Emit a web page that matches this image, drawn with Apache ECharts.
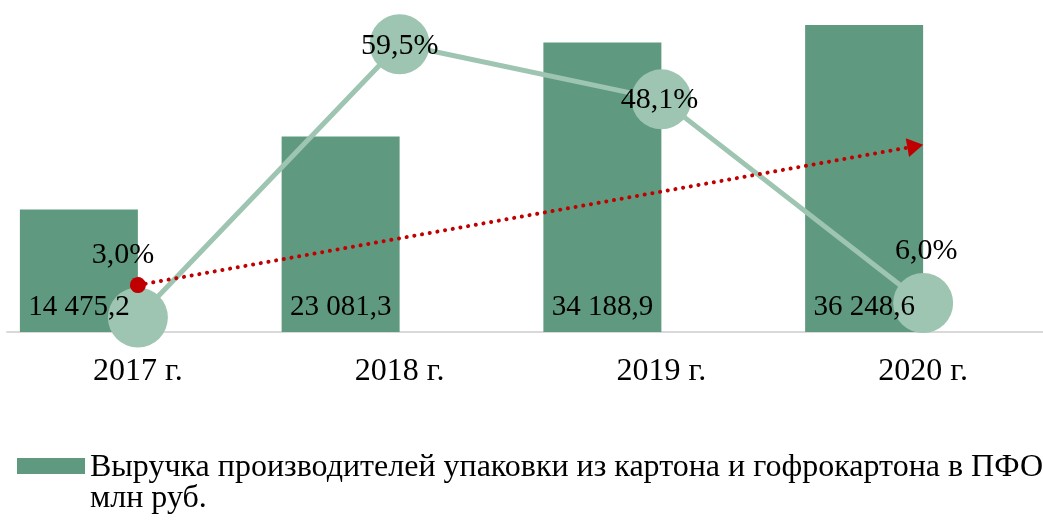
<!DOCTYPE html>
<html>
<head>
    <meta charset="utf-8" />
    <title></title>
    <script src="https://cdn.jsdelivr.net/npm/echarts@6/dist/echarts.min.js"></script>
    <style>
        html, body { margin: 0; padding: 0; background: #fff; }
        #main { width: 1043px; height: 520px; }
    </style>
</head>
<body>
<div id="main"></div>
<script type="text/javascript">
    // categories
    var years = ['2017 г.', '2018 г.', '2019 г.', '2020 г.'];
    // revenue, mln rub
    var revenue = [14475.2, 23081.3, 34188.9, 36248.6];
    // growth, %
    var growth = [3.0, 59.5, 48.1, 6.0];
    // trend arrow ends: [category position, % on right axis]
    var trendStart = [0, 9.7];
    var trendEnd = [2.97, 38.4];
    var legendLines = ['Выручка производителей упаковки из картона и гофрокартона в ПФО', 'млн руб.'];
    var legendName = legendLines.join('\n');

    // label offsets for the growth points
    var growthLabelOffset = [[-15, -62], [0, 2], [-2, 1], [3, -52]];

    var font = '"Liberation Serif", "Times New Roman", serif';
    var barColor = '#5f9a80';
    var lineColor = '#9ec4b2';
    var barW = 118;

    function fmtNum(v) {
        var s = v.toFixed(1).split('.');
        var intPart = s[0].replace(/\B(?=(\d{3})+(?!\d))/g, ' ');
        return intPart + ',' + s[1];
    }

    var myChart = echarts.init(document.getElementById('main'));
    var option = {
        animation: false,
        grid: {
            left: 7,
            width: 1047,
            top: 6,
            bottom: 188,
            outerBoundsMode: 'none'
        },
        legend: {
            data: [legendName],
            left: 12,
            top: 425,
            itemWidth: 68,
            itemHeight: 16,
            itemGap: 0,
            icon: 'rect',
            formatter: function () {
                return '{gap| }\n{t|' + legendLines[0] + '}\n{t|' + legendLines[1] + '}';
            },
            textStyle: {
                fontFamily: font,
                fontSize: 32,
                color: '#000',
                rich: {
                    gap: { lineHeight: 34, fontSize: 10 },
                    t: { fontFamily: font, fontSize: 32, lineHeight: 31, color: '#000' }
                }
            }
        },
        xAxis: [
            {
                type: 'category',
                data: years,
                axisLine: { lineStyle: { color: '#d9d9d9', width: 2 } },
                axisTick: { show: false },
                axisLabel: {
                    fontFamily: font,
                    fontSize: 32,
                    color: '#000',
                    margin: 24
                }
            },
            {
                // hidden numeric twin of the category axis, for the trend arrow
                type: 'value',
                min: -0.5,
                max: 3.5,
                show: false,
                splitLine: { show: false }
            }
        ],
        yAxis: [
            { type: 'value', min: 0, max: 38500, show: false, splitLine: { show: false } },
            { type: 'value', min: 0, max: 67.4, show: false, splitLine: { show: false } }
        ],
        series: [
            {
                name: legendName,
                type: 'bar',
                z: 2,
                barWidth: barW,
                barGap: 0,
                itemStyle: { color: barColor },
                data: revenue
            },
            {
                name: 'empty',
                type: 'bar',
                z: 2,
                barWidth: barW,
                barGap: 0,
                data: ['-', '-', '-', '-']
            },
            {
                name: 'growth',
                type: 'line',
                yAxisIndex: 1,
                z: 3,
                symbol: 'circle',
                symbolSize: 60,
                itemStyle: { color: lineColor },
                lineStyle: { color: lineColor, width: 5 },
                label: {
                    show: true,
                    position: 'inside',
                    fontFamily: font,
                    fontSize: 30,
                    color: '#000'
                },
                data: growth.map(function (v, i) {
                    return {
                        value: v,
                        label: {
                            offset: growthLabelOffset[i],
                            formatter: v.toFixed(1).replace('.', ',') + '%'
                        }
                    };
                })
            },
            {
                // bar value labels, drawn above the circles
                name: 'revenueLabels',
                type: 'custom',
                z: 4,
                silent: true,
                data: revenue.map(function (v, i) { return [i, v]; }),
                renderItem: function (params, api) {
                    var p = api.coord([api.value(0), 0]);
                    return {
                        type: 'text',
                        x: p[0] - barW / 2,
                        y: p[1] - 10,
                        style: {
                            text: fmtNum(api.value(1)),
                            font: '29px ' + font,
                            fill: '#000',
                            align: 'center',
                            verticalAlign: 'bottom'
                        }
                    };
                }
            },
            {
                name: 'trend',
                type: 'line',
                xAxisIndex: 1,
                yAxisIndex: 1,
                z: 5,
                data: [],
                markLine: {
                    silent: true,
                    label: { show: false },
                    lineStyle: {
                        color: '#c00000',
                        width: 4,
                        type: [0.1, 7.7],
                        cap: 'round'
                    },
                    data: [[
                        { coord: trendStart, symbol: 'circle', symbolSize: 16 },
                        { coord: trendEnd, symbol: 'triangle', symbolSize: [19, 16] }
                    ]]
                }
            }
        ]
    };
    myChart.setOption(option);
</script>
</body>
</html>
